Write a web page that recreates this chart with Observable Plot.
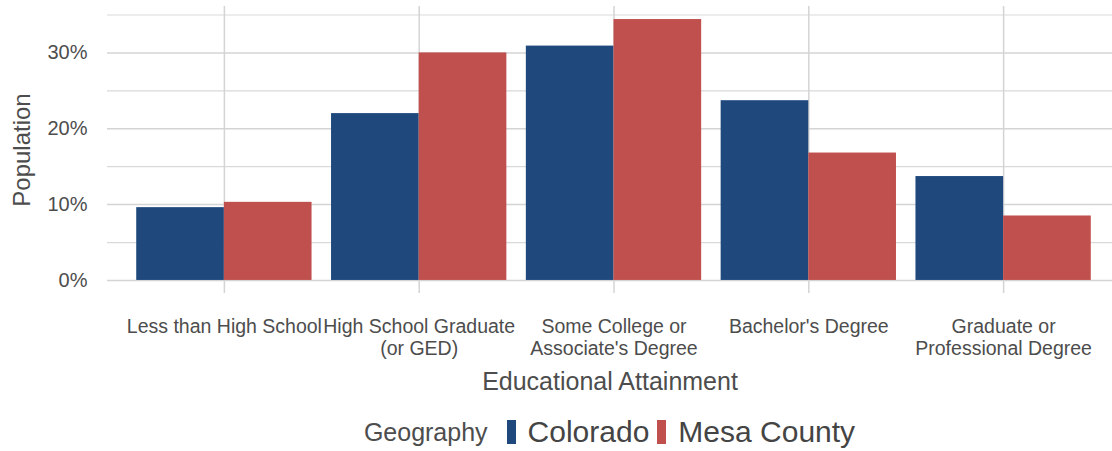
<!DOCTYPE html>
<html>
<head>
<meta charset="utf-8">
<script src="https://cdn.jsdelivr.net/npm/d3@7"></script>
<script src="https://cdn.jsdelivr.net/npm/@observablehq/plot@0.6"></script>
<style>
  html, body { margin: 0; padding: 0; background: #fff; }
  body { width: 1112px; height: 451px; overflow: hidden; font-family: "Liberation Sans", Arial, sans-serif; }
  #legend { display: flex; align-items: center; justify-content: center; margin-left: 107px; width: 1013px; height: 40px; padding-top: 12px; color: #4d4d4d; }
  #legend .title { font-size: 25px; margin-right: 19px; }
  #legend .key { display: inline-block; width: 9px; height: 24px; margin-right: 12px; }
  #legend .lab { font-size: 30px; margin-right: 8px; color: #444; }
</style>
</head>
<body>
<div id="chart"></div>
<div id="legend"></div>
<script>
const categories = ["Less than High School", "High School Graduate\n(or GED)", "Some College or\nAssociate's Degree", "Bachelor's Degree", "Graduate or\nProfessional Degree"];
const geographies = ["Colorado", "Mesa County"];
const colorado = [9.6, 22.0, 30.9, 23.7, 13.7];
const mesaCounty = [10.3, 30.0, 34.4, 16.8, 8.5];
const geoColors = ["#1F497D", "#C0504D"];
const yMajorTicks = [0, 10, 20, 30];
const yMinorTicks = [5, 15, 25, 35];
const xTitle = "Educational Attainment";
const yTitle = "Population";
const legendTitle = "Geography";

const series = [colorado, mesaCounty];
const rows = [];
categories.forEach((c, i) => {
  geographies.forEach((g, gi) => {
    rows.push({i, gi, category: c, geo: g, value: series[gi][i]});
  });
});

const n = categories.length;
const dodge = 0.9;
const yMax = d3.max(rows, d => d.value);
const yPad = yMax * 0.05;

const plot = Plot.plot({
  width: 1112,
  height: 400,
  marginTop: 6,
  marginBottom: 107,
  marginLeft: 107,
  marginRight: 0,
  style: {fontFamily: '"Liberation Sans", Arial, sans-serif', background: "#fff"},
  x: {type: "linear", domain: [-0.6, n - 1 + 0.6], range: [107, 1120]},
  y: {domain: [-yPad, yMax + yPad]},
  color: {domain: geographies, range: geoColors},
  marks: [
    Plot.ruleY(yMinorTicks, {stroke: "#d9d9d9", strokeWidth: 1.2}),
    Plot.ruleY(yMajorTicks, {stroke: "#d4d4d4", strokeWidth: 1.5}),
    Plot.ruleX(d3.range(n), {stroke: "#d4d4d4", strokeWidth: 1.5}),
    Plot.rectY(rows, {
      x1: d => d.i - dodge / 2 + d.gi * dodge / 2,
      x2: d => d.i + d.gi * dodge / 2,
      y1: 0,
      y2: "value",
      fill: "geo"
    }),
    Plot.axisY(yMajorTicks, {tickSize: 0, tickPadding: 20, tickFormat: d => d + "%", fontSize: 20, fill: "#4d4d4d", label: null}),
    Plot.axisX(d3.range(n), {tickSize: 0, tickPadding: 24, tickFormat: i => categories[i], fontSize: 19.5, lineHeight: 1.12, fill: "#4d4d4d", label: null}),
    Plot.text([yTitle], {frameAnchor: "left", textAnchor: "middle", dx: -85, rotate: -90, fontSize: 24, fill: "#4d4d4d"}),
    Plot.text([xTitle], {frameAnchor: "bottom", dy: 96, fontSize: 25, fill: "#4d4d4d"})
  ]
});
document.getElementById("chart").appendChild(plot);

const legend = document.getElementById("legend");
const t = document.createElement("span");
t.className = "title";
t.textContent = legendTitle;
legend.appendChild(t);
geographies.forEach((g, gi) => {
  const k = document.createElement("span");
  k.className = "key";
  k.style.background = geoColors[gi];
  legend.appendChild(k);
  const l = document.createElement("span");
  l.className = "lab";
  l.textContent = g;
  legend.appendChild(l);
});
</script>
</body>
</html>
